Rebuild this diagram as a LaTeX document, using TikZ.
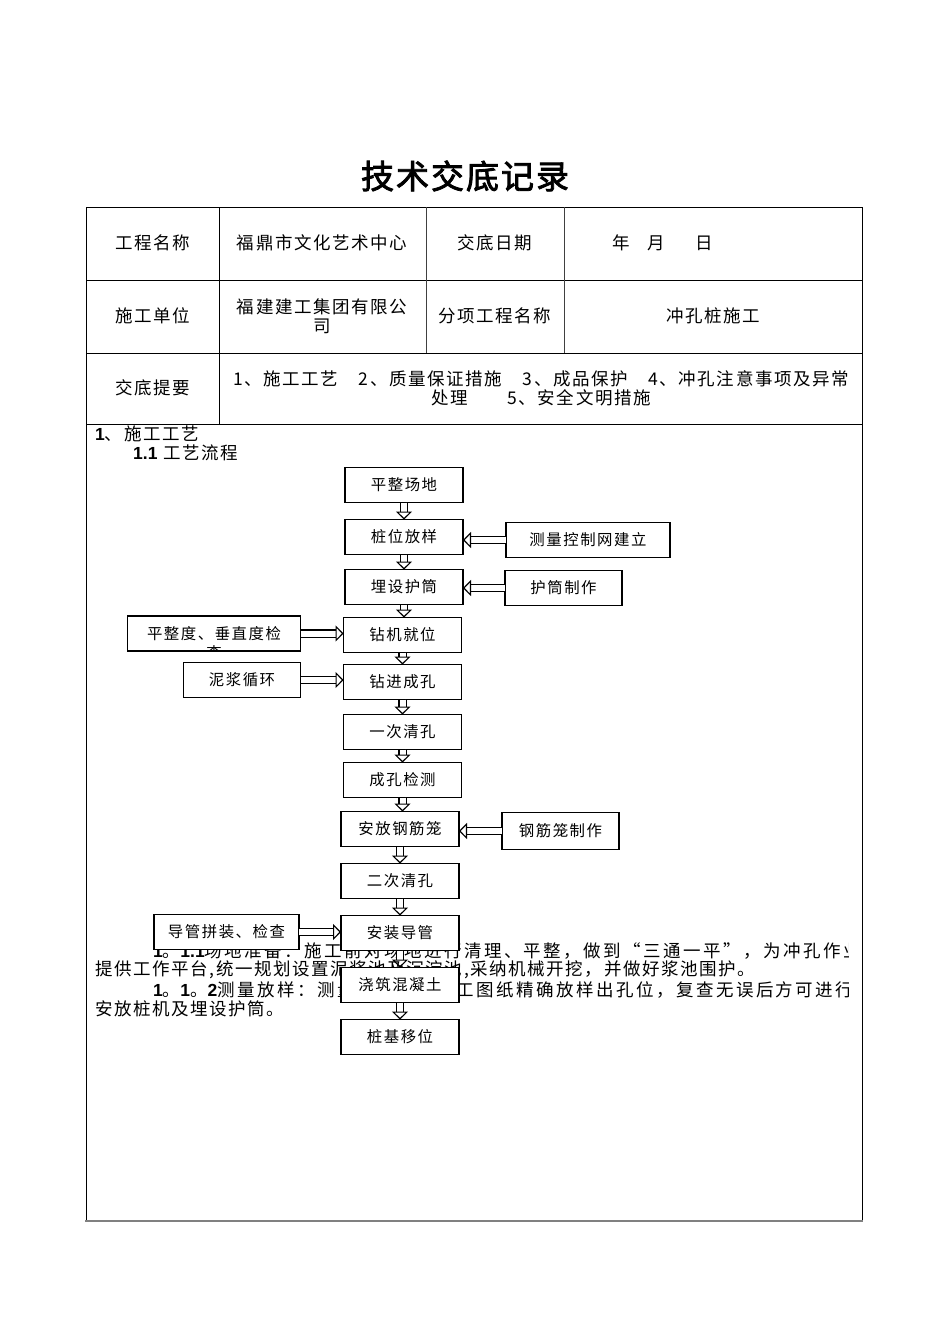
\documentclass[tikz,border=0pt]{standalone}
\usepackage{fontspec}
\setmainfont{Noto Sans CJK SC}
\newfontfamily\bodycjk[LetterSpace=9]{Noto Sans CJK SC}
\newfontfamily\paracjk[LetterSpace=14]{Noto Sans CJK SC}
\newfontfamily\flowcjk[LetterSpace=10]{Noto Sans CJK SC}
\newfontfamily\titlecjk[LetterSpace=6,FakeBold=2.5]{Noto Sans CJK SC}
\newfontfamily\numfont{Liberation Sans}
\newcommand{\cellfont}{\bodycjk\fontsize{17.5}{19}\selectfont}
\newcommand{\parafont}{\paracjk\fontsize{17.5}{19}\selectfont}
\newcommand{\flowfont}{\flowcjk\fontsize{15.4}{17}\selectfont}
\usetikzlibrary{positioning,arrows.meta,calc}

\begin{document}
\begin{tikzpicture}[
    x=1pt, y=-1pt,
    cell/.style={inner sep=0pt, font=\cellfont},
    stepbox/.style={draw, line width=1.4pt, fill=white, minimum width=118pt, minimum height=35pt, inner sep=0pt, outer sep=0pt, font=\flowfont},
    flowarrow/.style={double, double distance=6pt, line width=1.1pt, -{Triangle[open, length=8pt, width=16pt]}}
]
\useasboundingbox (0,0) rectangle (950,1344);

% Title
\node[font=\titlecjk\fontsize{33}{36}\selectfont] (title) at (465,176) {技术交底记录};

% Table frame
\draw[line width=0.8pt] (86,1221) -- (86,207) -- (862,207) -- (862,1221);
\draw[line width=2pt, black!50] (85,1221) -- (863,1221);
\draw[line width=0.8pt] (86,280) -- (862,280);
\draw[line width=0.8pt] (86,353) -- (862,353);
\draw[line width=0.8pt] (86,424) -- (862,424);
\draw[line width=0.8pt] (219,207) -- (219,424);
\draw[line width=0.8pt, black!75] (426,207) -- (426,353);
\draw[line width=0.8pt, black!75] (564,207) -- (564,353);

% Cells
\node[cell] (name) at (153,243) {工程名称};
\node[cell] (proj) at (322,243) {福鼎市文化艺术中心};
\node[cell] (date) at (495,243) {交底日期};
\node[cell, anchor=west] (ymd) at (612,243) {年\hspace{18pt}月\hspace{30pt}日};
\node[cell] (unit) at (153,316) {施工单位};
\node[cell, align=center] (comp) at (322,316) {福建建工集团有限公\\司};
\node[cell] (sub) at (495,316) {分项工程名称};
\node[cell] (work) at (713,316) {冲孔桩施工};
\node[cell] (key) at (153,388) {交底提要};
\node[cell, align=center] (keys) at (541,388) {1、施工工艺　2、质量保证措施　3、成品保护　4、冲孔注意事项及异常\\处理　　5、安全文明措施};

% Body
\node[cell, anchor=west] (sec) at (95,434) {{\numfont\bfseries 1}、施工工艺};
\node[cell, anchor=west] (subsec) at (133,453) {{\numfont\bfseries 1.1} 工艺流程};

\begin{scope}
\clip (86,930) rectangle (848,1030);
\node[cell, font=\parafont, anchor=west] (para1) at (153,951) {{\numfont\bfseries 1}。{\numfont\bfseries 1.1}场地准备：施工前对场地进行清理、平整，做到“三通一平”，为冲孔作业};
\node[cell, anchor=west] (para2) at (95,970) {提供工作平台,统一规划设置泥浆池及沉淀池,采纳机械开挖，并做好浆池围护。};
\node[cell, font=\parafont, anchor=west] (para3) at (153,990) {{\numfont\bfseries 1}。{\numfont\bfseries 1}。{\numfont\bfseries 2}测量放样：测量人员根据施工图纸精确放样出孔位，复查无误后方可进行};
\node[cell, anchor=west] (para4) at (95,1009) {安放桩机及埋设护筒。};
\end{scope}

% Main flow
\node[stepbox] (level) at (404,485) {平整场地};
\node[stepbox, below=17pt of level] (stake) {桩位放样};
\node[stepbox, below=15pt of stake] (casing) {埋设护筒};
\node[stepbox, below=13pt of casing, xshift=-1.5pt] (rig) {钻机就位};
\node[stepbox, below=12pt of rig] (drill) {钻进成孔};
\node[stepbox, below=15pt of drill] (clean1) {一次清孔};
\node[stepbox, below=13pt of clean1] (inspect) {成孔检测};
\node[stepbox, below=14pt of inspect, xshift=-2.5pt] (cage) {安放钢筋笼};
\node[stepbox, below=17pt of cage] (clean2) {二次清孔};
\node[stepbox, below=17pt of clean2] (tremie) {安装导管};
\node[stepbox, below=17pt of tremie] (pour) {浇筑混凝土};
\node[stepbox, below=17pt of pour] (move) {桩基移位};

% Side inputs
\node[stepbox, minimum width=164pt, right=43pt of stake, yshift=-3pt] (survey) {测量控制网建立};
\node[stepbox, minimum width=117pt, right=42pt of casing, yshift=-1pt] (sleeve) {护筒制作};
\node[stepbox, minimum width=117pt, minimum height=37pt, right=43pt of cage, yshift=-2pt] (cagemake) {钢筋笼制作};
\node[stepbox, minimum width=173pt, left=43pt of rig, yshift=1.5pt] (plumb) {平整度、垂直度检};
\node[stepbox, minimum width=117pt, left=43pt of drill, yshift=2pt] (mud) {泥浆循环};
\node[stepbox, minimum width=145pt, left=42pt of tremie, yshift=1pt] (tube) {导管拼装、检查};

\begin{scope}
\clip (plumb.south west) rectangle (plumb.north east);
\node[font=\flowfont, inner sep=0pt] (plumbcut) at ([yshift=-19pt]plumb.center) {查};
\end{scope}

% Arrows
\draw[flowarrow] (level.south) -- (level.south |- stake.north);
\draw[flowarrow] (stake.south) -- (stake.south |- casing.north);
\draw[flowarrow] (casing.south) -- (casing.south |- rig.north);
\draw[flowarrow] (rig.south) -- (rig.south |- drill.north);
\draw[flowarrow] (drill.south) -- (drill.south |- clean1.north);
\draw[flowarrow] (clean1.south) -- (clean1.south |- inspect.north);
\draw[flowarrow] (inspect.south) -- (inspect.south |- cage.north);
\draw[flowarrow] (cage.south) -- (cage.south |- clean2.north);
\draw[flowarrow] (clean2.south) -- (clean2.south |- tremie.north);
\draw[flowarrow] (tremie.south) -- (tremie.south |- pour.north);
\draw[flowarrow] (pour.south) -- (pour.south |- move.north);

\draw[flowarrow] (survey.west) -- (survey.west -| stake.east);
\draw[flowarrow] (sleeve.west) -- (sleeve.west -| casing.east);
\draw[flowarrow] (cagemake.west) -- (cagemake.west -| cage.east);
\draw[flowarrow] (plumb.east) -- (plumb.east -| rig.west);
\draw[flowarrow] (mud.east) -- (mud.east -| drill.west);
\draw[flowarrow] (tube.east) -- (tube.east -| tremie.west);

\end{tikzpicture}
\end{document}
